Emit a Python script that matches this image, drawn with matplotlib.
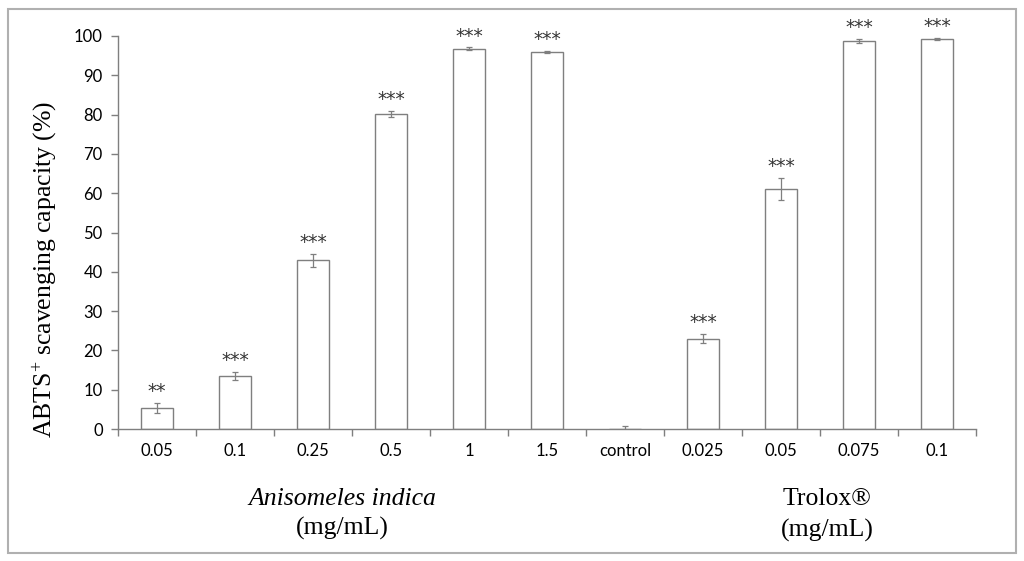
import matplotlib
matplotlib.use("Agg")
import matplotlib.pyplot as plt
from matplotlib.patches import Rectangle

categories = ["0.05", "0.1", "0.25", "0.5", "1", "1.5", "control", "0.025", "0.05", "0.075", "0.1"]
values = [5.3, 13.5, 42.9, 80.1, 96.8, 95.9, 0.0, 23.0, 61.0, 98.8, 99.2]
errors = [1.3, 1.1, 1.6, 0.8, 0.3, 0.2, 0.8, 1.2, 2.8, 0.5, 0.2]
stars = ["**", "***", "***", "***", "***", "***", "", "***", "***", "***", "***"]
yticks = [0, 10, 20, 30, 40, 50, 60, 70, 80, 90, 100]

grey = "#7f7f7f"
sans = ["Lato", "DejaVu Sans"]
serif = ["Liberation Serif", "DejaVu Serif"]

plt.rcParams["mathtext.fontset"] = "custom"
plt.rcParams["mathtext.rm"] = "Liberation Serif"
plt.rcParams["mathtext.it"] = "Liberation Serif:italic"

fig = plt.figure(figsize=(10.24, 5.61), dpi=100)
ax = fig.add_axes([118/1024, 1-429/561, (976-118)/1024, (429-36)/561])

x = list(range(len(categories)))
ax.bar(x, values, width=0.4, color="white", edgecolor=grey, linewidth=1.0, zorder=2)
ax.errorbar(x, values, yerr=errors, fmt="none", ecolor=grey, elinewidth=0.9,
            capsize=2.5, capthick=0.9, zorder=3)
for xi, v, e, s in zip(x, values, errors, stars):
    if s:
        ax.text(xi, v + e + 1.5, s, ha="center", va="baseline", fontsize=13.5,
                family="DejaVu Sans", color="#333333")

ax.set_xlim(-0.5, len(categories) - 0.5)
ax.set_ylim(0, 100)
ax.set_yticks(yticks)
ax.set_yticklabels([str(t) for t in yticks], family=sans, fontsize=12)
ax.set_xticks([i - 0.5 for i in range(len(categories) + 1)], minor=False)
ax.set_xticklabels([""] * (len(categories) + 1))
ax.set_xticks(x, minor=True)
ax.set_xticklabels(categories, minor=True, family=sans, fontsize=12)
ax.tick_params(axis="x", which="minor", length=0, pad=10)
ax.tick_params(axis="x", which="major", length=5, direction="out", color=grey, width=1)
ax.tick_params(axis="y", length=5, direction="out", color=grey, width=1, pad=6)
for side in ["top", "right"]:
    ax.spines[side].set_visible(False)
for side in ["left", "bottom"]:
    ax.spines[side].set_color(grey)
    ax.spines[side].set_linewidth(1)

fig.text(45/1024, 1-269/561, r"ABTS$^{+}$ scavenging capacity (%)", family=serif,
         fontsize=18.5, rotation=90, ha="center", va="center")

fig.text(342/1024, 1-499/561, "Anisomeles indica", family=serif, style="italic",
         fontsize=18.5, ha="center", va="center")
fig.text(342/1024, 1-528/561, "(mg/mL)", family=serif, fontsize=18.5, ha="center", va="center")
fig.text(827/1024, 1-499/561, "Trolox\u00ae", family=serif, fontsize=18.5, ha="center", va="center")
fig.text(827/1024, 1-530/561, "(mg/mL)", family=serif, fontsize=18.5, ha="center", va="center")

fig.patches.append(Rectangle((8/1024, 1-553/561), (1016-8)/1024, (553-9)/561,
                             transform=fig.transFigure, fill=False,
                             edgecolor="#b0b0b0", linewidth=1.5))

fig.savefig("out.png", dpi=100)
